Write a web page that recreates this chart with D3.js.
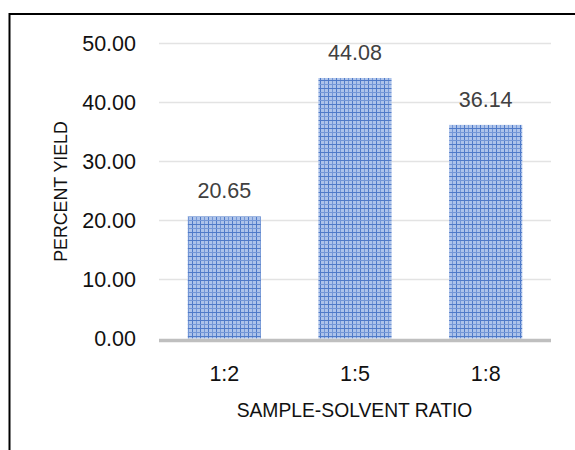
<!DOCTYPE html>
<html>
<head>
<meta charset="utf-8">
<script src="https://cdn.jsdelivr.net/npm/d3@7"></script>
<style>
  html, body { margin: 0; padding: 0; background: #fff; }
  svg { display: block; }
</style>
</head>
<body>
<div id="chart"></div>
<script>
const categories = ["1:2", "1:5", "1:8"];
const values = [20.65, 44.08, 36.14];
const yTicks = [0, 10, 20, 30, 40, 50];
const xTitle = "SAMPLE-SOLVENT RATIO";
const yTitle = "PERCENT YIELD";

(function () {
const W = 575, H = 450;
const svg = d3.select("#chart").append("svg").attr("width", W).attr("height", H);

const defs = svg.append("defs");
const pat = defs.append("pattern")
  .attr("id", "grid").attr("patternUnits", "userSpaceOnUse")
  .attr("width", 8).attr("height", 8);
pat.append("rect").attr("width", 8).attr("height", 8).attr("fill", "#adc3ea");
pat.append("rect").attr("x", 0).attr("y", 0).attr("width", 1).attr("height", 8).attr("fill", "#4f7ac8");
pat.append("rect").attr("x", 4).attr("y", 0).attr("width", 1).attr("height", 8).attr("fill", "#7396d6");
pat.append("rect").attr("x", 0).attr("y", 0).attr("width", 8).attr("height", 1).attr("fill", "#4f7ac8");
pat.append("rect").attr("x", 0).attr("y", 4).attr("width", 8).attr("height", 1).attr("fill", "#7396d6");

// outer border (extends past right/bottom edges)
svg.append("rect").attr("x", 9.5).attr("y", 14).attr("width", 600).attr("height", 500)
  .attr("fill", "none").attr("stroke", "#000").attr("stroke-width", 2);

const pl = 159, pr = 551, pt = 43, pb = 338.5;
const x = d3.scaleBand().domain(categories).range([pl, pr]).paddingInner(0.44).paddingOuter(0.22);
const y = d3.scaleLinear().domain([0, 50]).range([pb, pt]);

// gridlines
svg.append("g").selectAll("line").data(yTicks.filter(d => d > 0)).join("line")
  .attr("x1", pl).attr("x2", pr)
  .attr("y1", d => Math.round(y(d)) + 0.5).attr("y2", d => Math.round(y(d)) + 0.5)
  .attr("stroke", "#e3e3e3").attr("stroke-width", 1.5);

// y tick labels
const font = "'Liberation Sans', Arial, sans-serif";
svg.append("g").selectAll("text").data(yTicks).join("text")
  .attr("x", 136).attr("y", d => y(d)).attr("dy", "0.36em")
  .attr("text-anchor", "end").attr("font-family", font).attr("font-size", 21.5)
  .attr("fill", "#111").text(d => d.toFixed(2));

// bars
svg.append("g").selectAll("rect").data(values).join("rect")
  .attr("x", (d, i) => x(categories[i])).attr("width", x.bandwidth())
  .attr("y", d => y(d)).attr("height", d => y(0) - y(d))
  .attr("fill", "url(#grid)");

// data labels
svg.append("g").selectAll("text").data(values).join("text")
  .attr("x", (d, i) => x(categories[i]) + x.bandwidth() / 2)
  .attr("y", d => y(d) - 18)
  .attr("text-anchor", "middle").attr("font-family", font).attr("font-size", 21.5)
  .attr("fill", "#404040").text(d => d.toFixed(2));

// x axis line
svg.append("line").attr("x1", pl).attr("x2", pr)
  .attr("y1", pb + 2).attr("y2", pb + 2)
  .attr("stroke", "#bfbfbf").attr("stroke-width", 3.5);

// x tick labels
svg.append("g").selectAll("text").data(categories).join("text")
  .attr("x", d => x(d) + x.bandwidth() / 2).attr("y", 381)
  .attr("text-anchor", "middle").attr("font-family", font).attr("font-size", 21.5)
  .attr("fill", "#111").text(d => d);

// axis titles
svg.append("text").attr("x", (pl + pr) / 2 - 0.5).attr("y", 416.5)
  .attr("text-anchor", "middle").attr("font-family", font).attr("font-size", 19.3)
  .attr("fill", "#111").text(xTitle);

svg.append("text").attr("transform", "translate(66.5,191.5) rotate(-90)")
  .attr("text-anchor", "middle").attr("font-family", font).attr("font-size", 17.8)
  .attr("fill", "#111").text(yTitle);
})();
</script>
</body>
</html>
